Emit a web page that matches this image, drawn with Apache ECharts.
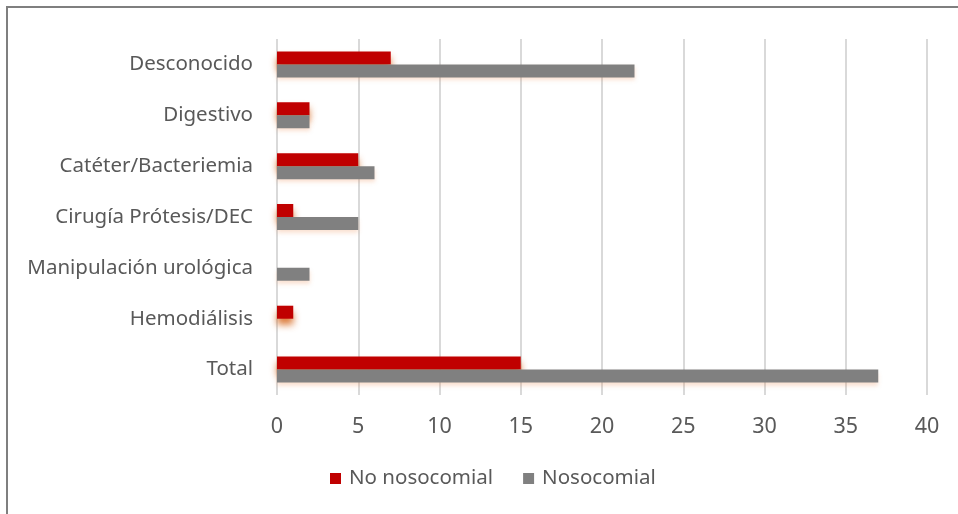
<!DOCTYPE html>
<html>
<head>
<meta charset="utf-8">
<script src="https://cdn.jsdelivr.net/npm/echarts@6/dist/echarts.min.js"></script>
<style>
  html, body { margin: 0; padding: 0; background: #fff; }
  #chart { width: 958px; height: 514px; }
</style>
</head>
<body>
<div id="chart"></div>
<script>
// Infection sources, listed top to bottom
const categories = [
  'Desconocido',
  'Digestivo',
  'Catéter/Bacteriemia',
  'Cirugía Prótesis/DEC',
  'Manipulación urológica',
  'Hemodiálisis',
  'Total'
];
const noNosocomial = [7, 2, 5, 1, 0, 1, 15];
const nosocomial = [22, 2, 6, 5, 2, 0, 37];
const xTicks = { min: 0, max: 40, interval: 5 };

const textColor = '#595959';
const fontFamily = '"Noto Sans", "Open Sans", sans-serif';

const chart = echarts.init(document.getElementById('chart'), null, { renderer: 'canvas' });

chart.setOption({
  animation: false,
  backgroundColor: '#fff',
  textStyle: { fontFamily: fontFamily },
  graphic: [{
    type: 'rect',
    shape: { x: 7, y: 7, width: 1000, height: 600 },
    style: { fill: 'none', stroke: '#7f7f7f', lineWidth: 2 },
    silent: true
  }],
  grid: { left: 277, right: 31, top: 39, bottom: 119, containLabel: false },
  legend: {
    bottom: 20,
    left: 325,
    itemWidth: 11,
    itemHeight: 11,
    itemGap: 30,
    icon: 'rect',
    textStyle: { color: textColor, fontSize: 20.5, fontFamily: fontFamily, padding: [0, 0, 0, 3] },
    data: ['No nosocomial', 'Nosocomial']
  },
  xAxis: {
    type: 'value',
    min: xTicks.min,
    max: xTicks.max,
    interval: xTicks.interval,
    axisLine: { show: false },
    axisTick: { show: false },
    axisLabel: { color: textColor, fontSize: 21.5, margin: 21, fontFamily: fontFamily },
    splitLine: { show: true, lineStyle: { color: '#d9d9d9', width: 2 } }
  },
  yAxis: {
    type: 'category',
    data: categories,
    inverse: true,
    axisLine: { show: false },
    axisTick: { show: false },
    axisLabel: { color: textColor, fontSize: 20.5, margin: 24, fontFamily: fontFamily }
  },
  series: [
    {
      name: 'No nosocomial',
      type: 'bar',
      data: noNosocomial,
      barWidth: 13,
      barGap: '0%',
      itemStyle: {
        color: '#c00000',
        shadowColor: 'rgba(215, 105, 30, 0.85)',
        shadowBlur: 7,
        shadowOffsetX: 0,
        shadowOffsetY: 6
      }
    },
    {
      name: 'Nosocomial',
      type: 'bar',
      data: nosocomial,
      barWidth: 13,
      barGap: '0%',
      itemStyle: {
        color: '#808080',
        shadowColor: 'rgba(235, 140, 80, 0.25)',
        shadowBlur: 4,
        shadowOffsetY: 3
      }
    }
  ]
});
</script>
</body>
</html>
